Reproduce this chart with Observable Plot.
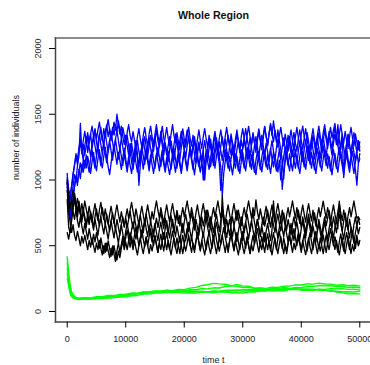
<!DOCTYPE html>
<html>
<head>
<meta charset="utf-8">
<script src="https://cdn.jsdelivr.net/npm/d3@7"></script>
<script src="https://cdn.jsdelivr.net/npm/@observablehq/plot@0.6"></script>
<style>
  html, body { margin: 0; padding: 0; background: #fff; overflow: hidden; }
  #chart svg { display: block; }
</style>
</head>
<body>
<div id="chart"></div>
<script>
// ---- Data ----
const title = "Whole Region";
const xLabel = "time t";
const yLabel = "number of individuals";
const xTicks = [0, 10000, 20000, 30000, 40000, 50000];
const yTicks = [0, 500, 1000, 1500, 2000];

// sampling times for the blue and black runs
const times = [
  0, 250, 500, 750, 1000, 1250, 1500, 1750, 2000, 2250, 2500, 2750, 3000, 3250, 3500, 3750, 4000, 4250, 4500, 4750,
  5000, 5250, 5500, 5750, 6000, 6250, 6500, 6750, 7000, 7250, 7500, 7750, 8000, 8250, 8500, 8750, 9000, 9250, 9500, 9750,
  10000, 10250, 10500, 10750, 11000, 11250, 11500, 11750, 12000, 12250, 12500, 12750, 13000, 13250, 13500, 13750, 14000, 14250, 14500, 14750,
  15000, 15250, 15500, 15750, 16000, 16250, 16500, 16750, 17000, 17250, 17500, 17750, 18000, 18250, 18500, 18750, 19000, 19250, 19500, 19750,
  20000, 20250, 20500, 20750, 21000, 21250, 21500, 21750, 22000, 22250, 22500, 22750, 23000, 23250, 23500, 23750, 24000, 24250, 24500, 24750,
  25000, 25250, 25500, 25750, 26000, 26250, 26500, 26750, 27000, 27250, 27500, 27750, 28000, 28250, 28500, 28750, 29000, 29250, 29500, 29750,
  30000, 30250, 30500, 30750, 31000, 31250, 31500, 31750, 32000, 32250, 32500, 32750, 33000, 33250, 33500, 33750, 34000, 34250, 34500, 34750,
  35000, 35250, 35500, 35750, 36000, 36250, 36500, 36750, 37000, 37250, 37500, 37750, 38000, 38250, 38500, 38750, 39000, 39250, 39500, 39750,
  40000, 40250, 40500, 40750, 41000, 41250, 41500, 41750, 42000, 42250, 42500, 42750, 43000, 43250, 43500, 43750, 44000, 44250, 44500, 44750,
  45000, 45250, 45500, 45750, 46000, 46250, 46500, 46750, 47000, 47250, 47500, 47750, 48000, 48250, 48500, 48750, 49000, 49250, 49500, 49750,
  50000
];

// blue runs
const blue1 = [
  1000, 820, 740, 860, 950, 1040, 990, 1110, 1180, 1430, 1220, 1150, 1260, 1330, 1210, 1290, 1350, 1240, 1310, 1380,
  1290, 1220, 1340, 1400, 1310, 1260, 1370, 1420, 1330, 1390, 1300, 1360, 1440, 1380, 1500, 1420, 1350, 1410, 1330, 1270,
  1340, 1260, 1190, 1280, 1210, 1140, 1230, 1300, 1200, 960, 1120, 1200, 1270, 1330, 1250, 1180, 1260, 1340, 1290, 1220,
  1310, 1380, 1300, 1250, 1340, 1410, 1320, 1270, 1190, 1260, 1330, 1240, 1180, 1270, 1350, 1280, 1210, 1300, 1370, 1290,
  1230, 1310, 1380, 1320, 1240, 1170, 1260, 1330, 1250, 1190, 1280, 1210, 1140, 1230, 1000, 1150, 1240, 1310, 1250, 1180,
  1260, 1340, 1280, 1200, 1290, 1220, 1150, 1240, 1310, 1230, 1160, 1250, 1330, 1260, 1180, 1270, 1350, 1290, 1210, 1300,
  1240, 1320, 1390, 1310, 1250, 1180, 1270, 1350, 1280, 1210, 1300, 1370, 1290, 1230, 1320, 1400, 1330, 1260, 1350, 1420,
  1340, 1450, 1360, 1290, 1380, 1300, 1230, 1150, 1010, 1180, 1260, 1340, 1270, 1200, 1290, 1360, 1280, 1220, 1310, 1380,
  1300, 1230, 1320, 1390, 1310, 1240, 1170, 1260, 1340, 1270, 1200, 1290, 1360, 1290, 1210, 1300, 1380, 1310, 1240, 1330,
  1400, 1320, 1380, 1430, 1340, 1270, 1190, 1280, 1350, 1020, 1200, 1280, 1350, 1270, 1200, 1290, 1360, 1280, 1210, 1300,
  1250
];
const blue2 = [
  950, 780, 700, 760, 880, 950, 1020, 960, 1080, 1010, 1120, 1060, 1150, 1090, 1180, 1120, 1050, 1140, 1210, 1130,
  1070, 1160, 1230, 1150, 1090, 1180, 1250, 1170, 1100, 1040, 1130, 1200, 1270, 1190, 1120, 1210, 1150, 1080, 1170, 1240,
  1160, 1090, 1180, 1110, 1050, 1140, 1210, 1130, 1060, 1150, 1220, 1160, 1080, 1170, 1240, 1170, 1100, 1190, 1120, 1050,
  1130, 1200, 1140, 1070, 1160, 1230, 1150, 1080, 1170, 1100, 1040, 1120, 1190, 1130, 1060, 1150, 1220, 1140, 1070, 1160,
  1230, 1160, 1090, 1180, 1250, 1170, 1110, 1040, 1130, 1200, 1120, 1060, 1150, 1000, 1090, 1170, 1240, 1160, 1100, 1180,
  1110, 1200, 1270, 1190, 1120, 920, 1080, 1160, 1230, 1150, 1090, 1180, 1110, 1040, 1130, 1200, 1140, 1070, 1160, 1230,
  1150, 1090, 1180, 1250, 1170, 1100, 1190, 1120, 1060, 1150, 1220, 1140, 1080, 1170, 1240, 1160, 1100, 1190, 1120, 1050,
  1140, 1210, 1130, 1070, 1160, 1230, 1150, 930, 1060, 1140, 1210, 1130, 1070, 1160, 1230, 1150, 1090, 1180, 1110, 1050,
  1140, 1220, 1150, 1080, 1170, 1240, 1160, 1090, 1180, 1110, 1050, 1140, 1210, 1130, 1070, 1160, 1230, 1160, 1090, 1180,
  1110, 1040, 1130, 1200, 1120, 1060, 1150, 1220, 1140, 1080, 1170, 1240, 1160, 1100, 1190, 1120, 1050, 1140, 1210, 1130,
  1160
];
const blue3 = [
  1050, 900, 850, 940, 1030, 1120, 1200, 1150, 1240, 1310, 1230, 1300, 1370, 1290, 1360, 1280, 1350, 1410, 1330, 1390,
  1310, 1380, 1440, 1360, 1300, 1390, 1320, 1400, 1460, 1380, 1310, 1400, 1340, 1420, 1370, 1450, 1380, 1320, 1400, 1340,
  1280, 1360, 1420, 1340, 1290, 1370, 1300, 1240, 1330, 1390, 1310, 1250, 1340, 1400, 1320, 1260, 1350, 1410, 1330, 1270,
  1350, 1420, 1340, 1280, 1370, 1300, 1240, 1330, 1400, 1320, 1260, 1350, 1420, 1340, 1280, 1360, 1290, 1230, 1320, 1390,
  1310, 1250, 1340, 1400, 1320, 1260, 1340, 1280, 1220, 1310, 1380, 1300, 1240, 1330, 1390, 1310, 1250, 1340, 1270, 1210,
  1300, 1370, 1290, 1230, 1320, 1380, 1300, 1240, 1330, 1400, 1320, 1260, 1350, 1280, 1220, 1310, 1380, 1300, 1240, 1330,
  1390, 1310, 1250, 1340, 1410, 1330, 1270, 1360, 1290, 1230, 1320, 1390, 1310, 1250, 1340, 1410, 1330, 1270, 1360, 1430,
  1350, 1290, 1380, 1310, 1250, 1340, 1400, 1320, 1260, 1350, 1280, 1220, 1310, 1380, 1300, 1240, 1330, 1400, 1320, 1260,
  1350, 1410, 1330, 1270, 1360, 1290, 1230, 1320, 1390, 1310, 1250, 1340, 1410, 1330, 1270, 1360, 1420, 1340, 1280, 1370,
  1300, 1240, 1330, 1400, 1320, 1260, 1350, 1420, 1340, 1280, 1370, 1300, 1240, 1330, 1400, 1320, 1260, 1350, 1290, 1230,
  1290
];
const blue4 = [
  980, 760, 700, 780, 860, 950, 1030, 980, 1070, 1130, 1060, 1150, 1090, 1190, 1120, 1060, 1160, 1230, 1150, 1090,
  1180, 1260, 1180, 1110, 1200, 1280, 1200, 1130, 1220, 1300, 1220, 1150, 1240, 1310, 1230, 1160, 1250, 1180, 1110, 1200,
  1130, 1060, 1150, 1220, 1140, 1080, 1170, 1240, 1160, 1100, 1190, 1260, 1180, 1120, 1210, 1140, 1070, 1160, 1230, 1150,
  1090, 1180, 1250, 1170, 1100, 1190, 1120, 1060, 1150, 1220, 1140, 1080, 1170, 1240, 1160, 1090, 1180, 1110, 1050, 1140,
  1210, 1130, 1070, 1160, 1230, 1150, 1080, 1170, 1240, 1160, 1100, 1190, 1120, 1060, 1150, 1220, 1140, 1080, 1170, 1240,
  1160, 1090, 1180, 1250, 1170, 1100, 880, 1050, 1140, 1210, 1130, 1070, 1160, 1230, 1150, 1090, 1180, 1110, 1050, 1140,
  1210, 1130, 1070, 1160, 1230, 1150, 1080, 1170, 1100, 1040, 1130, 1200, 1120, 1060, 1150, 1220, 1140, 1080, 1170, 1240,
  1160, 1100, 1190, 1120, 1060, 1150, 1000, 1100, 1180, 1250, 1170, 1110, 1200, 1130, 1070, 1160, 1230, 1150, 1090, 1180,
  1250, 1170, 1100, 1190, 1260, 1180, 1120, 1210, 1140, 1080, 1170, 1240, 1160, 1100, 1190, 1260, 1180, 1110, 1200, 1130,
  1070, 1160, 1230, 1150, 1090, 1180, 1250, 1170, 1110, 1040, 1130, 1200, 1120, 1060, 1150, 1220, 1140, 1080, 960, 1120,
  1200
];
const blue5 = [
  1020, 930, 880, 960, 1050, 1110, 1180, 1120, 1220, 1290, 1200, 1270, 1190, 1260, 1330, 1250, 1180, 1270, 1340, 1260,
  1190, 1280, 1350, 1270, 1200, 1290, 1360, 1280, 1210, 1300, 1370, 1290, 1220, 1310, 1380, 1300, 1230, 1320, 1250, 1180,
  1270, 1340, 1260, 1190, 1280, 1210, 1140, 1230, 1300, 1220, 1150, 1240, 1310, 1230, 1160, 1250, 1320, 1240, 1170, 1260,
  1330, 1250, 1180, 1270, 1340, 1260, 1190, 1280, 1210, 1140, 1230, 1300, 1220, 1150, 1240, 1310, 1230, 1160, 1250, 1320,
  1240, 1170, 1260, 1330, 1250, 1180, 1270, 1200, 1130, 1220, 1290, 1210, 1140, 1230, 1300, 1220, 1150, 1240, 1310, 1230,
  1160, 1250, 1320, 1240, 1170, 1260, 1330, 1250, 1180, 1270, 1340, 1260, 1190, 1280, 1210, 1140, 1230, 1300, 1220, 1150,
  1240, 1310, 1230, 1160, 1250, 1320, 1240, 1170, 1260, 1330, 1250, 1180, 1270, 1340, 1260, 1190, 1280, 1210, 1140, 1230,
  1300, 1220, 1150, 1240, 1310, 1230, 1160, 1250, 1320, 1240, 1170, 1260, 1330, 1250, 1180, 1270, 1200, 1130, 1220, 1290,
  1210, 1140, 1230, 1300, 1220, 1150, 1240, 1310, 1230, 1160, 1250, 1320, 1240, 1170, 1260, 1330, 1250, 1180, 1270, 1340,
  1260, 1190, 1280, 1350, 1270, 1420, 1300, 1230, 1320, 1250, 1180, 1270, 1340, 1260, 1190, 1280, 1210, 1140, 1230, 1300,
  1220
];

// black runs
const black1 = [
  980, 880, 800, 860, 760, 700, 780, 690, 640, 720, 650, 590, 670, 610, 550, 630, 570, 510, 590, 530,
  600, 540, 480, 560, 500, 440, 520, 460, 540, 480, 420, 500, 440, 380, 460, 520, 450, 510, 570, 500,
  560, 620, 550, 490, 570, 510, 580, 640, 570, 500, 560, 620, 550, 490, 560, 500, 570, 630, 560, 500,
  570, 510, 450, 530, 590, 520, 460, 540, 600, 530, 470, 550, 610, 540, 480, 560, 500, 440, 520, 580,
  510, 570, 630, 560, 500, 570, 510, 450, 530, 590, 520, 460, 540, 600, 530, 470, 550, 610, 540, 480,
  560, 620, 550, 490, 570, 510, 580, 640, 570, 510, 450, 530, 590, 520, 460, 540, 600, 530, 470, 550,
  610, 540, 480, 560, 500, 440, 520, 580, 510, 570, 630, 560, 500, 570, 510, 450, 530, 590, 520, 460,
  540, 600, 530, 470, 550, 610, 540, 480, 560, 500, 440, 520, 580, 510, 570, 630, 560, 500, 570, 510,
  450, 530, 590, 520, 460, 540, 600, 530, 470, 550, 610, 540, 480, 560, 500, 440, 520, 580, 510, 570,
  630, 560, 500, 570, 510, 450, 530, 590, 520, 460, 540, 600, 530, 470, 550, 610, 540, 480, 560, 500,
  540
];
const black2 = [
  850, 640, 600, 690, 780, 860, 790, 720, 800, 740, 680, 760, 700, 640, 720, 660, 740, 680, 620, 700,
  640, 580, 660, 720, 650, 590, 670, 610, 550, 630, 690, 620, 560, 640, 580, 520, 600, 660, 590, 530,
  610, 670, 600, 540, 620, 680, 610, 550, 630, 690, 620, 560, 640, 700, 630, 570, 650, 590, 530, 610,
  670, 600, 540, 620, 680, 610, 550, 630, 690, 620, 560, 640, 700, 630, 570, 650, 590, 530, 610, 670,
  600, 540, 620, 680, 610, 550, 630, 690, 620, 560, 640, 700, 630, 570, 650, 710, 640, 580, 660, 600,
  540, 620, 680, 610, 550, 630, 880, 700, 620, 560, 640, 700, 630, 570, 650, 590, 530, 610, 670, 600,
  540, 620, 680, 610, 550, 630, 690, 620, 560, 640, 700, 630, 570, 650, 590, 530, 610, 670, 600, 540,
  620, 840, 690, 620, 560, 640, 700, 630, 570, 650, 590, 530, 610, 670, 600, 540, 620, 680, 610, 550,
  630, 690, 620, 560, 640, 700, 630, 570, 650, 590, 530, 610, 670, 600, 540, 620, 680, 610, 550, 630,
  690, 620, 560, 640, 700, 630, 840, 690, 610, 550, 630, 690, 620, 560, 640, 580, 520, 600, 660, 590,
  640
];
const black3 = [
  600, 550, 620, 720, 820, 900, 830, 760, 840, 770, 700, 780, 720, 660, 740, 680, 760, 700, 640, 720,
  780, 710, 650, 730, 790, 720, 660, 740, 670, 610, 690, 750, 680, 620, 700, 640, 580, 660, 720, 650,
  710, 640, 700, 760, 690, 630, 710, 650, 590, 670, 730, 660, 600, 680, 740, 670, 610, 690, 630, 570,
  650, 710, 640, 700, 760, 690, 630, 710, 650, 590, 670, 730, 660, 600, 680, 740, 670, 730, 660, 600,
  680, 740, 670, 610, 690, 750, 680, 620, 700, 640, 580, 660, 720, 650, 710, 770, 700, 640, 720, 660,
  600, 680, 740, 670, 610, 690, 750, 680, 620, 700, 640, 580, 660, 720, 650, 710, 770, 700, 640, 720,
  660, 600, 680, 740, 670, 610, 690, 750, 680, 620, 700, 640, 580, 660, 720, 650, 710, 770, 700, 640,
  720, 660, 600, 680, 740, 670, 610, 690, 750, 680, 620, 700, 640, 580, 660, 720, 650, 710, 770, 700,
  640, 720, 660, 600, 680, 740, 670, 610, 690, 750, 680, 620, 700, 640, 580, 660, 720, 650, 710, 770,
  700, 640, 720, 660, 600, 680, 740, 670, 610, 690, 750, 680, 620, 700, 640, 580, 660, 720, 650, 710,
  660
];
const black4 = [
  920, 760, 680, 600, 660, 580, 540, 610, 560, 500, 570, 520, 580, 530, 470, 540, 490, 560, 500, 450,
  520, 470, 540, 480, 430, 500, 450, 520, 460, 410, 480, 430, 500, 440, 390, 460, 410, 480, 540, 470,
  530, 470, 540, 600, 530, 470, 540, 480, 430, 500, 560, 490, 440, 510, 570, 500, 440, 510, 460, 520,
  580, 510, 450, 520, 470, 540, 600, 530, 470, 540, 480, 430, 500, 560, 490, 440, 510, 570, 500, 440,
  510, 460, 520, 580, 510, 450, 520, 470, 540, 600, 530, 470, 540, 480, 430, 500, 560, 490, 440, 510,
  570, 500, 440, 510, 460, 520, 580, 510, 450, 520, 470, 540, 600, 530, 470, 540, 480, 430, 500, 560,
  490, 440, 510, 570, 500, 440, 510, 460, 520, 580, 510, 450, 520, 470, 540, 600, 530, 470, 540, 480,
  430, 500, 560, 490, 440, 510, 570, 500, 440, 510, 460, 520, 580, 510, 450, 520, 470, 540, 600, 530,
  470, 540, 480, 430, 500, 560, 490, 440, 510, 570, 500, 440, 510, 460, 520, 580, 510, 450, 520, 470,
  540, 600, 530, 470, 540, 480, 430, 500, 560, 490, 440, 510, 570, 500, 440, 510, 460, 520, 580, 510,
  520
];
const black5 = [
  1000, 850, 780, 860, 920, 840, 780, 860, 800, 740, 820, 760, 840, 780, 720, 800, 740, 680, 760, 820,
  750, 690, 770, 830, 760, 700, 780, 720, 660, 740, 800, 730, 670, 750, 810, 740, 680, 760, 700, 640,
  720, 780, 710, 770, 830, 760, 700, 780, 720, 660, 740, 800, 730, 670, 750, 810, 740, 680, 760, 700,
  780, 840, 770, 710, 790, 730, 670, 750, 810, 740, 680, 760, 820, 750, 690, 770, 710, 650, 730, 790,
  720, 780, 840, 770, 710, 790, 730, 670, 750, 810, 740, 680, 760, 820, 750, 690, 770, 710, 650, 730,
  790, 720, 780, 840, 770, 710, 790, 730, 670, 750, 810, 740, 680, 760, 820, 750, 690, 770, 710, 650,
  730, 790, 720, 780, 840, 770, 710, 790, 730, 850, 760, 700, 780, 720, 660, 740, 800, 730, 670, 750,
  810, 740, 680, 760, 820, 750, 690, 770, 710, 650, 730, 790, 720, 780, 840, 770, 710, 790, 730, 670,
  750, 810, 740, 680, 760, 820, 750, 690, 770, 710, 650, 730, 790, 720, 780, 840, 770, 710, 790, 730,
  670, 750, 810, 740, 680, 760, 820, 750, 690, 770, 710, 650, 730, 790, 720, 780, 840, 770, 710, 720,
  700
];

// sampling times for the green runs
const greenTimes = [
  0, 100, 200, 300, 500, 700, 1000, 1500, 2000, 3000,
  4000, 5000, 6000, 7000, 8000, 9000, 10000, 11000, 12000, 13000,
  14000, 15000, 16000, 17000, 18000, 19000, 20000, 21000, 22000, 23000,
  24000, 25000, 26000, 27000, 28000, 29000, 30000, 31000, 32000, 33000,
  34000, 35000, 36000, 37000, 38000, 39000, 40000, 41000, 42000, 43000,
  44000, 45000, 46000, 47000, 48000, 49000, 50000
];
const green1 = [
  415, 365, 322, 268, 204, 158, 127, 106, 101, 104,
  103, 112, 113, 122, 121, 130, 131, 140, 139, 148,
  147, 154, 152, 160, 158, 168, 166, 178, 183, 198,
  203, 214, 210, 207, 196, 192, 182, 183, 176, 179,
  176, 184, 183, 192, 193, 202, 201, 210, 208, 216,
  209, 208, 200, 203, 196, 199, 193
];
const green2 = [
  370, 332, 286, 243, 178, 142, 113, 102, 93, 100,
  98, 106, 105, 114, 113, 124, 125, 136, 137, 147,
  148, 157, 155, 162, 155, 159, 157, 166, 165, 174,
  172, 180, 179, 190, 193, 206, 195, 192, 179, 178,
  170, 172, 165, 174, 173, 182, 181, 190, 189, 198,
  195, 198, 189, 190, 183, 186, 180
];
const green3 = [
  330, 302, 258, 222, 163, 132, 110, 106, 98, 100,
  98, 104, 103, 110, 110, 120, 122, 132, 134, 142,
  140, 148, 148, 154, 152, 158, 156, 158, 152, 154,
  148, 154, 154, 162, 162, 164, 156, 158, 158, 166,
  166, 174, 174, 182, 174, 174, 168, 170, 164, 170,
  168, 174, 172, 174, 168, 170, 164
];
const green4 = [
  290, 268, 242, 198, 152, 120, 110, 96, 96, 94,
  100, 98, 104, 102, 110, 110, 120, 124, 136, 138,
  146, 146, 152, 146, 148, 146, 152, 150, 156, 148,
  148, 142, 150, 150, 158, 158, 166, 166, 168, 160,
  162, 156, 158, 158, 166, 166, 172, 170, 170, 162,
  162, 154, 154, 148, 150, 148, 154
];
const green5 = [
  250, 232, 208, 182, 138, 117, 102, 98, 90, 97,
  95, 101, 99, 106, 105, 112, 112, 120, 122, 132,
  132, 140, 140, 146, 144, 146, 140, 142, 140, 148,
  148, 156, 150, 150, 142, 142, 140, 148, 148, 156,
  156, 164, 164, 172, 170, 170, 162, 162, 160, 168,
  162, 160, 148, 144, 134, 136, 134
];

// ---- build tables ----
function rows(runs, ts) {
  return runs.flatMap((arr, r) =>
    arr.map((v, i) => ({t: ts[i], v, run: r})).filter(d => d.t !== undefined));
}
const blueRows = rows([blue1, blue2, blue3, blue4, blue5], times);
const blackRows = rows([black1, black2, black3, black4, black5], times);
const greenRows = rows([green1, green2, green3, green4, green5], greenTimes);

const font = "'Liberation Sans', Arial, Helvetica, sans-serif";

const chart = Plot.plot({
  width: 370,
  height: 365,
  marginLeft: 55,
  marginRight: -1,
  marginTop: 37.5,
  marginBottom: 43.5,
  style: {fontFamily: font, background: "#fff", color: "#000"},
  x: {domain: [-2000, 52000], axis: null},
  y: {domain: [-80, 2080], axis: null},
  marks: [
    Plot.line(blueRows, {x: "t", y: "v", z: "run", stroke: "#0000ff", strokeWidth: 1.35, strokeDasharray: "2.5,0.8"}),
    Plot.line(blackRows, {x: "t", y: "v", z: "run", stroke: "#000000", strokeWidth: 1.35, strokeDasharray: "2.5,0.8"}),
    Plot.line(greenRows, {x: "t", y: "v", z: "run", stroke: "#00ff00", strokeWidth: 1.4}),
    Plot.frame({anchor: "top", stroke: "#666", strokeWidth: 1.5}),
    Plot.frame({anchor: "left", stroke: "#444", strokeWidth: 1.5}),
    Plot.frame({anchor: "bottom", stroke: "#444", strokeWidth: 1.5}),
    // y axis ticks and rotated labels
    Plot.axisY({ticks: yTicks, tickSize: 6, tickFormat: () => "", stroke: "#000", label: null}),
    Plot.text(yTicks, {y: d => d, frameAnchor: "left", dx: -17, rotate: -90, text: d => String(d), fontSize: 9, fill: "#333", textAnchor: "middle", lineAnchor: "middle"}),
    // x axis ticks and labels
    Plot.axisX({ticks: xTicks, tickSize: 6, tickFormat: () => "", stroke: "#000", anchor: "bottom", label: null}),
    Plot.text(xTicks, {x: d => d, frameAnchor: "bottom", dy: 17, text: d => String(d), fontSize: 9, fill: "#222", textAnchor: "middle", lineAnchor: "middle"}),
    // titles
    Plot.text([title], {frameAnchor: "top", dy: -22.5, text: d => d, fontSize: 10.7, fontWeight: "bold", fill: "#111", lineAnchor: "middle"}),
    Plot.text([xLabel], {frameAnchor: "bottom", dy: 38, text: d => d, fontSize: 9, fill: "#222", lineAnchor: "middle"}),
    Plot.text([yLabel], {frameAnchor: "left", dx: -39, rotate: -90, text: d => d, fontSize: 9, fill: "#222", lineAnchor: "middle"})
  ]
});
document.getElementById("chart").appendChild(chart);
</script>
</body>
</html>
